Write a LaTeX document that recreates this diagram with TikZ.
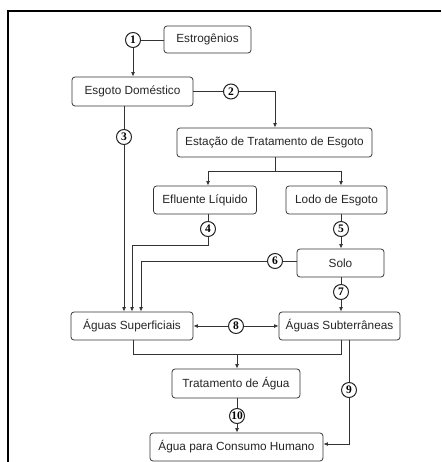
\documentclass[tikz,border=0pt]{standalone}
\usepackage{fontspec}
\setmainfont{Liberation Sans}
\newfontfamily\numfont{Liberation Serif}
\usetikzlibrary{arrows.meta}
\begin{document}
\begin{tikzpicture}[x=1pt,y=-1pt,
  box/.style={draw=black!80,line width=0.75pt,rounded corners=3pt,inner sep=0pt,
    font=\fontsize{11.8}{13}\selectfont,text=black!85},
  num/.style={draw=black!85,circle,fill=white,line width=1pt,inner sep=0pt,minimum size=15pt,
    font=\numfont\fontsize{11.5}{11.5}\selectfont\bfseries},
  ln/.style={draw=black!80,line width=0.75pt},
  arr/.style={ln,-{Latex[length=4.5pt,width=3.8pt]}},
  darr/.style={ln,{Latex[length=4.5pt,width=3.8pt]}-{Latex[length=4.5pt,width=3.8pt]}}]
\useasboundingbox (0,0) rectangle (441,462);
\fill[white] (0,0) rectangle (441,462);
\draw[line width=2pt] (441,11) -- (8,11) -- (8,462);

\node[box,minimum width=87pt,minimum height=27pt] (estr) at (207.5,39.5) {Estrogênios};
\node[box,minimum width=121pt,minimum height=29pt] (esgd) at (132.5,91.5) {Esgoto Doméstico};
\node[box,minimum width=195pt,minimum height=29pt] (ete) at (274.5,142.5) {Estação de Tratamento de Esgoto};
\node[box,minimum width=103pt,minimum height=28pt] (efl) at (205,200) {Efluente Líquido};
\node[box,minimum width=101pt,minimum height=28pt] (lodo) at (336.5,200) {Lodo de Esgoto};
\node[box,minimum width=87pt,minimum height=28pt] (solo) at (340.5,263) {Solo};
\node[box,minimum width=122pt,minimum height=28pt] (asup) at (132,326) {Águas Superficiais};
\node[box,minimum width=121pt,minimum height=28pt] (asub) at (339.5,326) {Águas Subterrâneas};
\node[box,minimum width=128pt,minimum height=29pt] (trat) at (236,383.5) {Tratamento de Água};
\node[box,minimum width=173pt,minimum height=28pt] (cons) at (236.5,447) {Água para Consumo Humano};

\node[num] (c1) at (133,40) {1};
\node[num] (c2) at (231,91.5) {2};
\node[num] (c3) at (124,137) {3};
\node[num] (c4) at (208,229) {4};
\node[num] (c5) at (341,229) {5};
\node[num] (c6) at (275,261) {6};
\node[num] (c7) at (341,292) {7};
\node[num] (c8) at (236,326) {8};
\node[num] (c9) at (349,390) {9};
\node[num] (c10) at (237,416) {10};

\coordinate (b1) at (275,171);
\coordinate (b2) at (208,245);
\coordinate (b3) at (141,261);
\coordinate (j1) at (133,354);
\coordinate (j2) at (237,354);
\coordinate (j3) at (349,444);

% 1
\draw[ln] (estr.west |- c1) -- (c1);
\draw[arr] (c1) -- (c1 |- esgd.north);
% 2
\draw[ln] (esgd.east |- c2) -- (c2);
\draw[arr] (c2) -| (ete.north -| b1);
% 3
\draw[ln] (esgd.south -| c3) -- (c3);
\draw[arr] (c3) -- (c3 |- asup.north);
% ETE split
\draw[ln] (ete.south -| b1) -- (b1);
\draw[arr] (b1) -| (efl.north -| c4);
\draw[arr] (b1) -| (lodo.north -| c5);
% 4
\draw[ln] (efl.south -| c4) -- (c4);
\draw[arr] (c4) |- (b2) -| ([xshift=-9pt]b3 |- asup.north);
% 5
\draw[ln] (lodo.south -| c5) -- (c5);
\draw[arr] (c5) -- (c5 |- solo.north);
% 6
\draw[ln] (solo.west |- c6) -- (c6);
\draw[arr] (c6) -- (b3) -- (b3 |- asup.north);
% 7
\draw[ln] (solo.south -| c7) -- (c7);
\draw[arr] (c7) -- (c7 |- asub.north);
% 8
\draw[arr] (c8) -- (asub.west);
\draw[arr] (c8) -- (asup.east);
% to treatment
\draw[ln] (asup.south -| j1) -- (j1) -- (j1 -| c7) -- (c7 |- asub.south);
\draw[arr] (j2) -- (trat.north -| j2);
% 10
\draw[ln] (trat.south -| c10) -- (c10);
\draw[arr] (c10) -- (c10 |- cons.north);
% 9
\draw[ln] (asub.south -| c9) -- (c9);
\draw[arr] (c9) |- (cons.east |- j3);
\end{tikzpicture}
\end{document}
